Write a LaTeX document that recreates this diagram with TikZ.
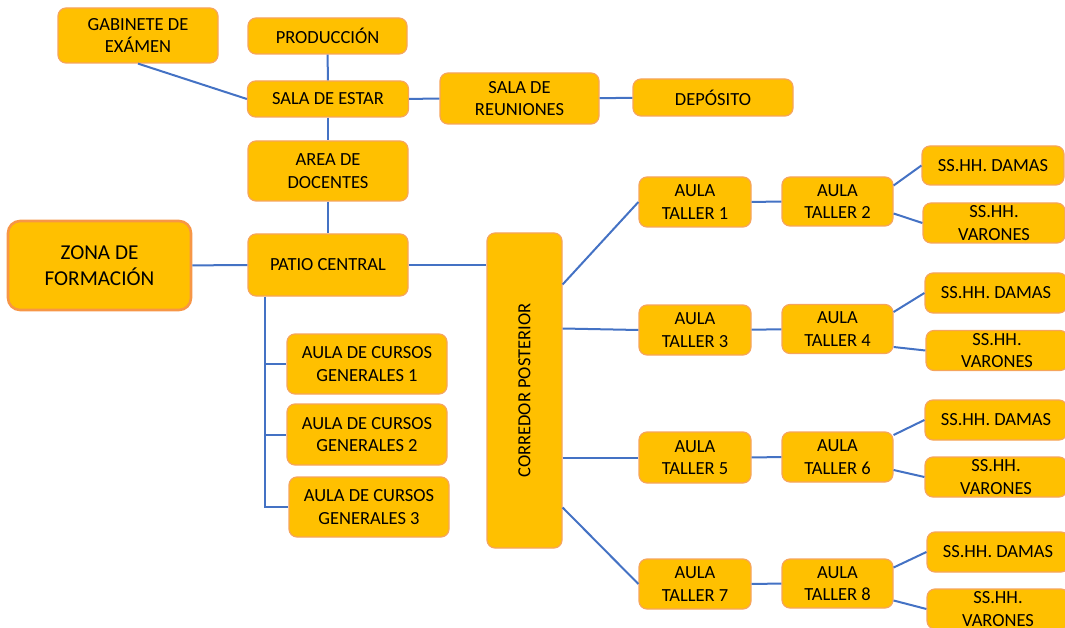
\documentclass[tikz,border=0pt]{standalone}
\usepackage{fontspec}
\setmainfont{Carlito}
\usetikzlibrary{positioning}

\definecolor{oro}{HTML}{FFC000}
\definecolor{borde}{HTML}{F6A55C}
\definecolor{bordezona}{HTML}{F79646}
\definecolor{azul}{HTML}{4472C4}

\tikzset{
    ambiente/.style={draw=borde, fill=oro, rounded corners=8pt, line width=1.2pt,
        align=center, inner sep=2pt, text=black,
        font=\fontsize{18.5}{22.6}\selectfont},
    enlace/.style={draw=azul, line width=2pt},
}

\begin{document}
\begin{tikzpicture}[x=1pt,y=-1pt]
    \clip (0,0) rectangle (1065,628);
    % zona administrativa
    \node[ambiente, minimum width=160pt, minimum height=55pt] (gabinete) at (138,35.5) {GABINETE DE\\EXÁMEN};
    \node[ambiente, minimum width=159pt, minimum height=36pt] (produccion) at (327.5,36) {PRODUCCIÓN};
    \node[ambiente, minimum width=161pt, minimum height=36pt] (estar) at (328,99) {SALA DE ESTAR};
    \node[ambiente, minimum width=159pt, minimum height=51pt] (reuniones) at (519.5,98.5) {SALA DE\\REUNIONES};
    \node[ambiente, minimum width=160pt, minimum height=37pt] (deposito) at (713,97.5) {DEPÓSITO};
    \node[ambiente, minimum width=160pt, minimum height=60pt] (docentes) at (328,171) {AREA DE\\DOCENTES};

    % patio y aulas generales
    \node[ambiente, draw=bordezona, line width=2.6pt, rounded corners=12pt,
          minimum width=183pt, minimum height=89pt,
          font=\fontsize{21.2}{25.5}\selectfont] (zona) at (99.5,265.5) {ZONA DE\\FORMACIÓN};
    \node[ambiente, minimum width=160pt, minimum height=62pt] (patio) at (328,265) {PATIO CENTRAL};
    \node[ambiente, minimum width=160pt, minimum height=60pt] (cursos1) at (367,364) {AULA DE CURSOS\\GENERALES 1};
    \node[ambiente, minimum width=160pt, minimum height=61pt] (cursos2) at (367,434.5) {AULA DE CURSOS\\GENERALES 2};
    \node[ambiente, minimum width=160pt, minimum height=60pt] (cursos3) at (369,507) {AULA DE CURSOS\\GENERALES 3};
    \node[ambiente, minimum width=75pt, minimum height=315pt] (corredor) at (524.5,390.5) {\rotatebox{90}{CORREDOR POSTERIOR}};

    % talleres
    \node[ambiente, minimum width=112pt, minimum height=50pt] (taller1) at (695,202) {AULA\\TALLER 1};
    \node[ambiente, minimum width=111pt, minimum height=49pt] (taller2) at (837.5,201.5) {AULA\\TALLER 2};
    \node[ambiente, minimum width=112pt, minimum height=50pt] (taller3) at (695,330) {AULA\\TALLER 3};
    \node[ambiente, minimum width=111pt, minimum height=49pt] (taller4) at (837.5,329) {AULA\\TALLER 4};
    \node[ambiente, minimum width=112pt, minimum height=51pt] (taller5) at (695,457.5) {AULA\\TALLER 5};
    \node[ambiente, minimum width=111pt, minimum height=50pt] (taller6) at (837.5,457) {AULA\\TALLER 6};
    \node[ambiente, minimum width=112pt, minimum height=50pt] (taller7) at (695,584) {AULA\\TALLER 7};
    \node[ambiente, minimum width=111pt, minimum height=49pt] (taller8) at (837.5,583.5) {AULA\\TALLER 8};

    % servicios higienicos
    \node[ambiente, minimum width=142pt, minimum height=39pt] (damas1) at (993,165.5) {SS.HH. DAMAS};
    \node[ambiente, minimum width=142pt, minimum height=40pt] (varones1) at (994,223) {SS.HH.\\VARONES};
    \node[ambiente, minimum width=142pt, minimum height=40pt] (damas2) at (996,293) {SS.HH. DAMAS};
    \node[ambiente, minimum width=142pt, minimum height=40pt] (varones2) at (997,350.5) {SS.HH.\\VARONES};
    \node[ambiente, minimum width=142pt, minimum height=40pt] (damas3) at (996,420) {SS.HH. DAMAS};
    \node[ambiente, minimum width=142pt, minimum height=40pt] (varones3) at (996,477) {SS.HH.\\VARONES};
    \node[ambiente, minimum width=142pt, minimum height=40pt] (damas4) at (998,552) {SS.HH. DAMAS};
    \node[ambiente, minimum width=142pt, minimum height=40pt] (varones4) at (998,609) {SS.HH.\\VARONES};

    \path[enlace]
        (produccion) edge (estar)
        (gabinete.south) edge (estar.west)
        (estar) edge (reuniones)
        (reuniones) edge (deposito)
        (estar) edge (docentes)
        (docentes) edge (patio)
        (zona) edge (patio)
        (patio.east) edge (patio.east -| corredor.west)
        ([yshift=106pt]corredor.east) edge (taller1.west)
        ([yshift=62pt]corredor.east) edge (taller3.west)
        ([yshift=-67pt]corredor.east) edge (taller5.west)
        ([yshift=-117pt]corredor.east) edge (taller7.west)
        (taller1) edge (taller2)
        (taller3) edge (taller4)
        (taller5) edge (taller6)
        (taller7) edge (taller8)
        ([yshift=16pt]taller2.east) edge (damas1.west)
        ([yshift=-12pt]taller2.east) edge (varones1.west)
        ([yshift=17pt]taller4.east) edge (damas2.west)
        ([yshift=-18pt]taller4.east) edge (varones2.west)
        ([yshift=22pt]taller6.east) edge (damas3.west)
        ([yshift=-13pt]taller6.east) edge (varones3.west)
        ([yshift=16pt]taller8.east) edge (damas4.west)
        ([yshift=-17pt]taller8.east) edge (varones4.west);

    % ramal de las aulas generales
    \coordinate (tronco) at ([xshift=18pt]patio.south west);
    \draw[enlace] (tronco) |- (cursos3.west)
        (tronco |- cursos1.west) -- (cursos1.west)
        (tronco |- cursos2.west) -- (cursos2.west);
\end{tikzpicture}
\end{document}
